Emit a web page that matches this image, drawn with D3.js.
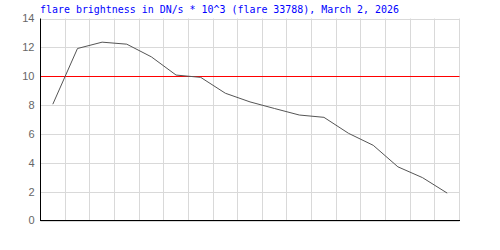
<!DOCTYPE html>
<html><head><meta charset="utf-8">
<script src="https://cdn.jsdelivr.net/npm/d3@7"></script>
<style>body{margin:0;background:#fff}svg{display:block}</style>
</head><body>
<svg id="c" width="500" height="250"></svg>
<script>
const categories = ["0","1","2","3","4","5","6","7","8","9","10","11","12","13","14","15","16"];
const brightness = [8.06, 11.92, 12.36, 12.22, 11.34, 10.08, 9.92, 8.82, 8.22, 7.76, 7.31, 7.15, 6.04, 5.21, 3.72, 2.97, 1.90];
const yTicks = [0, 2, 4, 6, 8, 10, 12, 14];
const threshold = 10;
const titleText = "flare brightness in DN/s * 10^3 (flare 33788), March 2, 2026";

const svg = d3.select("#c");
const x = d3.scaleBand().domain(categories).range([40.5, 459.5]).padding(0);
const y = d3.scaleLinear().domain([0, 14]).range([220.5, 18.5]);

// horizontal grid
svg.append("g").selectAll("line").data(yTicks).join("line")
  .attr("x1", x.range()[0]).attr("x2", x.range()[1])
  .attr("y1", d => Math.round(y(d)) + 0.5).attr("y2", d => Math.round(y(d)) + 0.5)
  .attr("stroke", "#d9d9d9").attr("stroke-width", 1);

// vertical grid at band boundaries
const bounds = categories.slice(1).map(c => x(c)).concat([x(categories[categories.length-1]) + x.bandwidth()]);
svg.append("g").selectAll("line").data(bounds).join("line")
  .attr("x1", d => Math.round(d - 0.5) + 0.5).attr("x2", d => Math.round(d - 0.5) + 0.5)
  .attr("y1", y(14)).attr("y2", y(0))
  .attr("stroke", "#d9d9d9").attr("stroke-width", 1);

// threshold line
svg.append("line")
  .attr("x1", x.range()[0]).attr("x2", x.range()[1])
  .attr("y1", Math.round(y(threshold)) + 0.5).attr("y2", Math.round(y(threshold)) + 0.5)
  .attr("stroke", "#ff0000").attr("stroke-width", 1);

// data line
const line = d3.line().x((d, i) => x(categories[i]) + x.bandwidth() / 2).y(d => y(d));
svg.append("path").datum(brightness).attr("d", line)
  .attr("fill", "none").attr("stroke", "#555").attr("stroke-width", 1);

// axes
svg.append("line").attr("x1", 40.5).attr("x2", 40.5).attr("y1", y(14)).attr("y2", y(0) + 0.5)
  .attr("stroke", "#000").attr("stroke-width", 1);
svg.append("line").attr("x1", 40).attr("x2", 460).attr("y1", y(0)).attr("y2", y(0))
  .attr("stroke", "#000").attr("stroke-width", 1);

// y tick labels
svg.append("g").selectAll("text").data(yTicks).join("text")
  .attr("x", 34.5).attr("y", d => y(d)).attr("dy", "0.36em")
  .attr("text-anchor", "end")
  .attr("font-family", "Liberation Sans, Arial, sans-serif").attr("font-size", 11)
  .attr("fill", "#666").text(d => d);

// title
svg.append("text").attr("x", 40).attr("y", 13)
  .attr("font-family", "DejaVu Sans Mono, monospace").attr("font-size", 11)
  .attr("textLength", 359).attr("lengthAdjust", "spacingAndGlyphs")
  .attr("fill", "#0000ff").text(titleText);
</script>
</body></html>
